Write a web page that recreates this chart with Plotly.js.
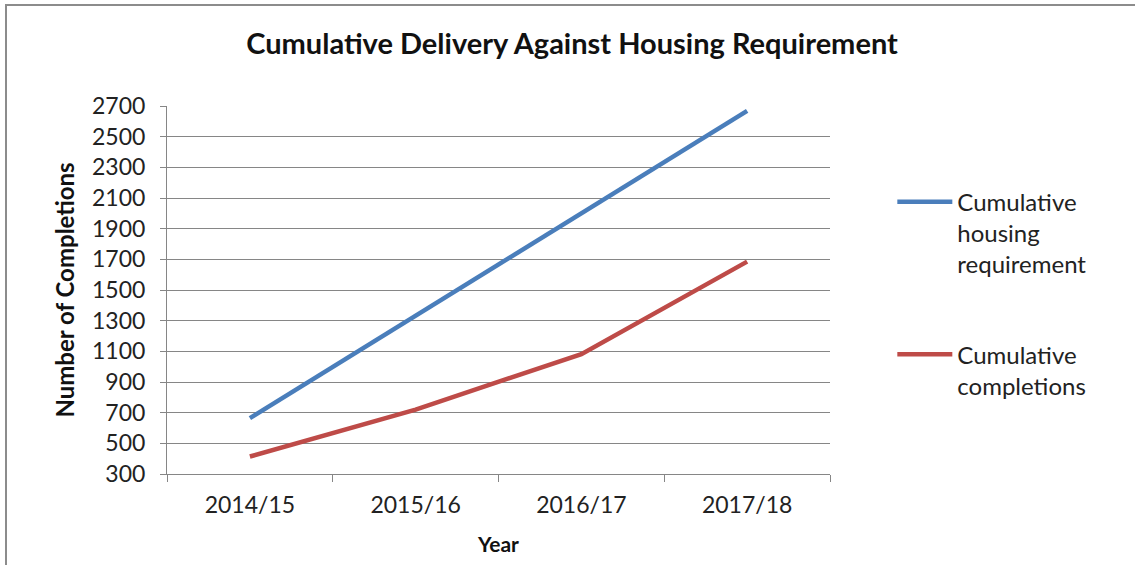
<!DOCTYPE html>
<html>
<head>
<meta charset="utf-8">
<script src="https://cdn.plot.ly/plotly-3.0.1.min.js"></script>
<style>
html,body{margin:0;padding:0;background:#fff;}
#wrap{position:relative;width:1135px;height:565px;overflow:hidden;}
#frame{position:absolute;left:5px;top:4px;width:1200px;height:600px;border-left:2px solid #8c8c8c;border-top:2px solid #8c8c8c;pointer-events:none;z-index:5;}
#chart{position:absolute;left:0;top:0;width:1135px;height:565px;}
</style>
</head>
<body>
<div id="wrap"><div id="chart"></div><div id="frame"></div></div>
<script>
const years = ["2014/15", "2015/16", "2016/17", "2017/18"];
const housingRequirement = [664, 1332, 2000, 2668];
const completions = [414, 720, 1082, 1685];
const seriesNames = ["Cumulative<br>housing<br>requirement", "Cumulative<br>completions"];
const yTicks = [300, 500, 700, 900, 1100, 1300, 1500, 1700, 1900, 2100, 2300, 2500, 2700];

const FONT = "Lato, 'Open Sans', sans-serif";
const traces = [
  {x: years, y: housingRequirement, name: seriesNames[0], legendgroup: "a", type: "scatter", mode: "lines",
   line: {color: "#4a7ebb", width: 4.5}},
  {x: years, y: completions, name: seriesNames[1], legendgroup: "b", type: "scatter", mode: "lines",
   line: {color: "#be4b48", width: 4.5}}
];
const layout = {
  width: 1135, height: 565,
  margin: {l: 167, r: 305, t: 106, b: 91},
  paper_bgcolor: "#fff", plot_bgcolor: "#fff",
  font: {family: FONT, color: "#222", size: 23},
  title: {text: "<b>Cumulative Delivery Against Housing Requirement</b>", x: 0.504, xanchor: "center",
          y: 0.922, yanchor: "middle", font: {family: FONT, size: 29, color: "#111"}},
  showlegend: true,
  legend: {x: 1.094, xanchor: "left", y: 0.80, yanchor: "top", valign: "top",
           font: {family: FONT, size: 24, color: "#222"},
           tracegroupgap: 56, itemwidth: 55, bgcolor: "rgba(0,0,0,0)"},
  xaxis: {type: "category", range: [-0.5, 3.5], tickson: "boundaries", ticks: "outside", ticklen: 7, tickcolor: "#868686",
          showline: true, linecolor: "#868686", linewidth: 1, showgrid: false, zeroline: false,
          ticklabelstandoff: 10,
          tickfont: {family: FONT, size: 23, color: "#222"},
          title: {text: "<b>Year</b>", font: {family: FONT, size: 21, color: "#111"}, standoff: 20}},
  yaxis: {range: [300, 2700], tickvals: yTicks, ticktext: yTicks.map(String), ticks: "outside", ticklen: 6,
          tickcolor: "#868686", showline: true, linecolor: "#868686", linewidth: 1,
          showgrid: true, gridcolor: "#868686", gridwidth: 1, zeroline: false,
          ticklabelstandoff: 10,
          tickfont: {family: FONT, size: 23, color: "#222"},
          title: {text: "<b>Number of Completions</b>", font: {family: FONT, size: 24, color: "#111"}, standoff: 10}}
};
Plotly.newPlot("chart", traces, layout, {displayModeBar: false, staticPlot: true});
</script>
</body>
</html>
